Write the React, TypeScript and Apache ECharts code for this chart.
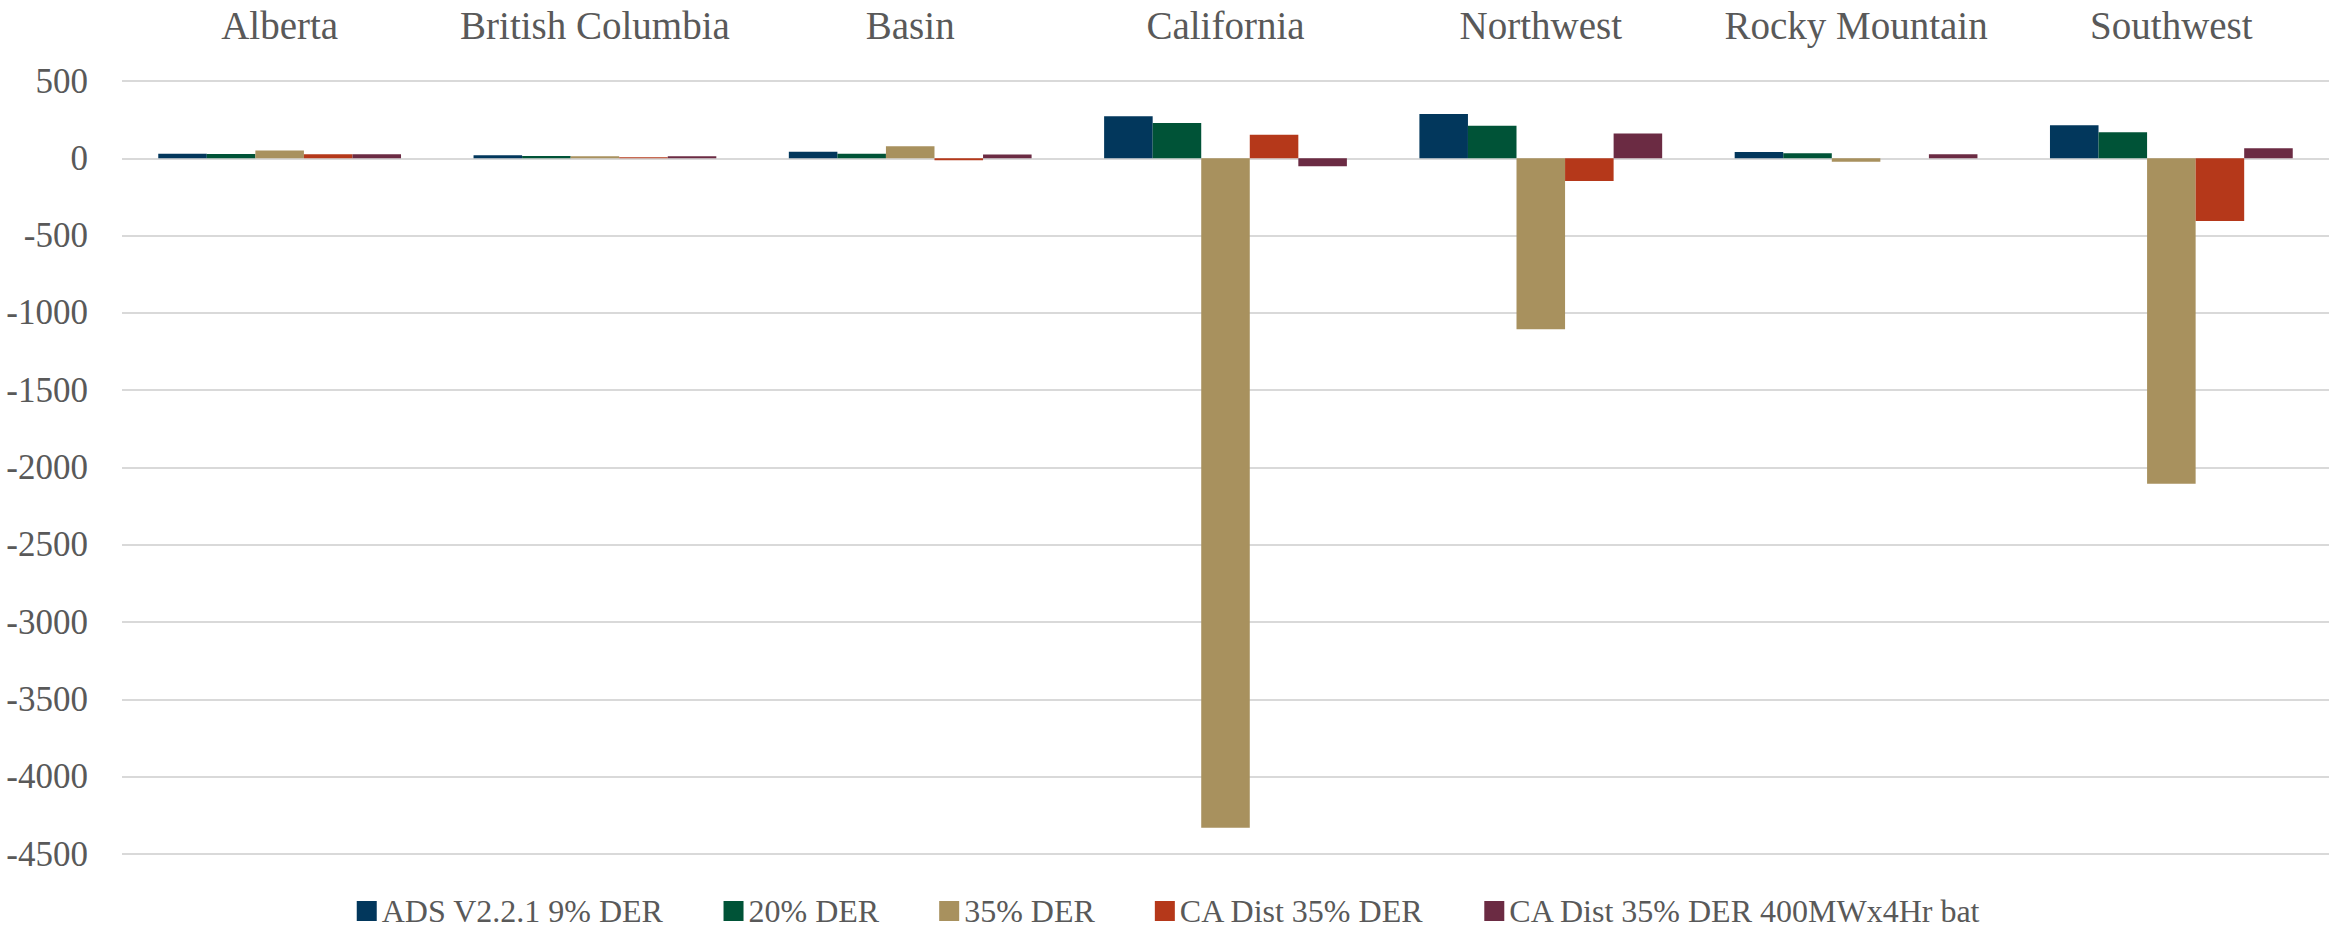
import React, { useEffect, useRef } from "react";
import * as echarts from "echarts";

const categories = ["Alberta", "British Columbia", "Basin", "California", "Northwest", "Rocky Mountain", "Southwest"];
const seriesNames = ["ADS V2.2.1 9% DER", "20% DER", "35% DER", "CA Dist 35% DER", "CA Dist 35% DER 400MWx4Hr bat"];
const adsValues = [30, 19, 43, 272, 287, 41, 213];
const der20Values = [28, 15, 30, 228, 211, 32, 168];
const der35Values = [50, 13, 78, -4330, -1105, -22, -2105];
const caDistValues = [26, 6, -13, 153, -147, 0, -405];
const caDistBatValues = [26, 13, 25, -52, 160, 26, 65];
const colors = ["#02375C", "#005337", "#A8915E", "#B5381A", "#6B2B43"];

const FONT = "Liberation Serif";

export default function App() {
  const ref = useRef<HTMLDivElement>(null);
  useEffect(() => {
    if (!ref.current) return;
    const chart = echarts.init(ref.current, null, { renderer: "svg" });
    const allData = [adsValues, der20Values, der35Values, caDistValues, caDistBatValues];
    chart.setOption({
      animation: false,
      backgroundColor: "#ffffff",
      color: colors,
      textStyle: { fontFamily: FONT },
      grid: { left: 122, right: 9, top: 81, height: 773, containLabel: false },
      legend: {
        bottom: 2,
        left: "center",
        itemWidth: 20,
        itemHeight: 20,
        itemGap: 60,
        icon: "rect",
        textStyle: { fontFamily: FONT, fontSize: 32, color: "#595959" },
        data: seriesNames,
      },
      xAxis: {
        type: "category",
        position: "top",
        data: categories,
        axisLine: { show: false },
        axisTick: { show: false },
        axisLabel: {
          fontFamily: FONT,
          fontSize: 39,
          color: "#595959",
          margin: 56,
          verticalAlign: "middle",
          interval: 0,
        },
      },
      yAxis: {
        type: "value",
        min: -4500,
        max: 500,
        interval: 500,
        axisLine: { show: false },
        axisTick: { show: false },
        splitLine: { lineStyle: { color: "#D9D9D9", width: 2 } },
        axisLabel: {
          fontFamily: FONT,
          fontSize: 35,
          color: "#595959",
          margin: 34,
          formatter: (v: number) => String(v),
        },
      },
      series: seriesNames.map((name, i) => ({
        name,
        type: "bar",
        data: allData[i],
        barGap: "0%",
        barCategoryGap: "23%",
        itemStyle: { color: colors[i] },
      })),
    });
    return () => chart.dispose();
  }, []);
  return <div ref={ref} style={{ position: "absolute", left: 0, top: 0, width: 2338, height: 934 }} />;
}
